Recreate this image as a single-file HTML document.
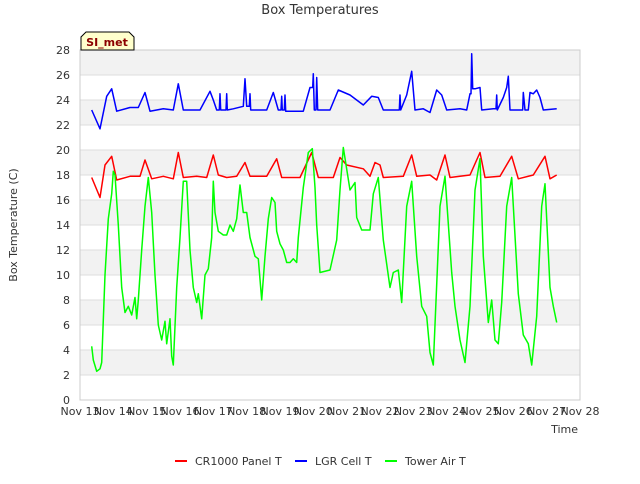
<!DOCTYPE html>
<html><head><meta charset="utf-8"><style>
body{margin:0;background:#fff;font-family:"DejaVu Sans","Liberation Sans",sans-serif;}
svg text{font-family:"DejaVu Sans","Liberation Sans",sans-serif;}
</style></head><body>
<svg id="chart" width="640" height="480" xmlns="http://www.w3.org/2000/svg">
<rect width="640" height="480" fill="#fff"/>
<g id="bands"></g><g id="grid"></g>
<rect x="80" y="50" width="500" height="350" fill="none" stroke="#ccc"/>
<g id="series"></g><g id="ticks"></g>
<text x="320" y="14" text-anchor="middle" font-size="13" fill="#333">Box Temperatures</text>
<text transform="translate(17,225) rotate(-90)" text-anchor="middle" font-size="11" fill="#333">Box Temperature (C)</text>
<text x="578" y="433" text-anchor="end" font-size="11" fill="#333">Time</text>
<g>
<path d="M81,50 L81,37 L86,32 L129,32 L134,37 L134,50 Z" fill="#ffffcc" stroke="#000" stroke-width="1"/>
<text x="107" y="46" text-anchor="middle" font-size="11" font-weight="bold" fill="#8b0000">SI_met</text>
</g>
<g>
<g><line x1="175" y1="461" x2="187" y2="461" stroke="#f00" stroke-width="2"/><text x="195" y="465" font-size="11" fill="#333">CR1000 Panel T</text></g>
<g><line x1="295" y1="461" x2="307" y2="461" stroke="#00f" stroke-width="2"/><text x="315" y="465" font-size="11" fill="#333">LGR Cell T</text></g>
<g><line x1="385" y1="461" x2="397" y2="461" stroke="#0f0" stroke-width="2"/><text x="405" y="465" font-size="11" fill="#333">Tower Air T</text></g>
</g>
</svg>
<script>
const xTickLabels=["Nov 13","Nov 14","Nov 15","Nov 16","Nov 17","Nov 18","Nov 19","Nov 20","Nov 21","Nov 22","Nov 23","Nov 24","Nov 25","Nov 26","Nov 27","Nov 28"];
const yTicks=[0,2,4,6,8,10,12,14,16,18,20,22,24,26,28];
const redDays=[0.35,0.6,0.75,0.95,1.1,1.5,1.8,1.95,2.15,2.5,2.8,2.95,3.1,3.5,3.8,4.0,4.15,4.4,4.7,4.95,5.1,5.6,5.9,6.05,6.6,6.95,7.15,7.6,7.8,8.0,8.5,8.7,8.85,9.0,9.1,9.7,9.95,10.1,10.5,10.7,10.95,11.1,11.7,12.0,12.15,12.6,12.95,13.15,13.6,13.95,14.1,14.3];
const redVals=[17.8,16.2,18.8,19.5,17.6,17.9,17.9,19.2,17.7,17.9,17.7,19.8,17.8,17.9,17.8,19.6,18.0,17.8,17.9,19.0,17.9,17.9,19.3,17.8,17.8,19.8,17.8,17.8,19.4,18.8,18.5,17.9,19.0,18.8,17.8,17.9,19.6,17.9,18.0,17.6,19.6,17.8,18.0,19.8,17.8,17.9,19.5,17.7,18.0,19.5,17.7,18.0];
const blueDays=[0.35,0.6,0.8,0.95,1.1,1.5,1.75,1.95,2.1,2.5,2.8,2.95,3.1,3.6,3.9,4.0,4.1,4.18,4.2,4.22,4.38,4.4,4.42,4.6,4.9,4.95,5.0,5.08,5.1,5.12,5.2,5.6,5.8,5.95,6.03,6.05,6.07,6.13,6.15,6.17,6.3,6.7,6.9,6.98,7.0,7.03,7.08,7.1,7.13,7.2,7.5,7.75,8.1,8.5,8.75,8.95,9.1,9.5,9.58,9.6,9.62,9.8,9.95,10.05,10.3,10.5,10.7,10.85,11.0,11.4,11.6,11.7,11.73,11.75,11.78,11.85,12.0,12.05,12.4,12.48,12.5,12.52,12.7,12.8,12.85,12.9,13.2,13.28,13.3,13.35,13.45,13.5,13.6,13.7,13.8,13.9,14.3];
const blueVals=[23.2,21.7,24.3,24.9,23.1,23.4,23.4,24.6,23.1,23.3,23.2,25.3,23.2,23.2,24.7,24.0,23.2,23.2,24.5,23.2,23.2,24.5,23.2,23.3,23.5,25.7,23.5,23.5,24.5,23.2,23.2,23.2,24.6,23.2,23.2,24.3,23.2,23.2,24.4,23.1,23.1,23.1,25.0,25.0,26.1,23.2,23.2,25.8,23.2,23.2,23.2,24.8,24.4,23.6,24.3,24.2,23.2,23.2,23.2,24.4,23.2,24.4,26.3,23.2,23.3,23.0,24.8,24.4,23.2,23.3,23.2,24.5,24.5,27.7,24.9,24.9,25.0,23.2,23.3,23.3,24.4,23.2,24.2,25.0,25.9,23.2,23.2,23.2,24.6,23.2,23.2,24.6,24.5,24.8,24.2,23.2,23.3];
const greenDays=[0.35,0.4,0.5,0.6,0.65,0.75,0.85,0.95,1.0,1.05,1.15,1.25,1.35,1.45,1.55,1.65,1.7,1.75,1.85,1.95,2.05,2.15,2.25,2.35,2.45,2.55,2.6,2.7,2.75,2.8,2.9,3.0,3.1,3.2,3.3,3.4,3.5,3.55,3.65,3.75,3.85,3.95,4.0,4.05,4.15,4.3,4.4,4.5,4.6,4.7,4.8,4.9,5.0,5.1,5.25,5.35,5.45,5.55,5.65,5.75,5.85,5.9,6.0,6.1,6.2,6.3,6.4,6.5,6.55,6.7,6.85,6.97,7.05,7.1,7.2,7.5,7.7,7.8,7.9,8.1,8.25,8.3,8.45,8.7,8.8,8.95,9.1,9.3,9.4,9.55,9.65,9.8,9.95,10.1,10.25,10.4,10.5,10.6,10.8,10.95,11.15,11.25,11.4,11.55,11.7,11.85,12.0,12.1,12.25,12.35,12.45,12.55,12.65,12.8,12.95,13.15,13.3,13.45,13.55,13.7,13.85,13.95,14.1,14.2,14.3];
const greenVals=[4.3,3.2,2.3,2.5,3.0,10,14.5,16.5,18.3,18.0,14,9,7,7.5,6.8,8.2,6.5,8,12,15.5,17.8,15,10,6,4.8,6.3,4.5,6.5,3.5,2.8,9,13,17.5,17.5,12,9,7.8,8.5,6.5,10,10.5,13,17.5,15,13.5,13.2,13.2,14,13.5,14.5,17.2,15,15,13,11.5,11.3,8,11.5,14.5,16.2,15.8,13.5,12.5,12,11,11,11.3,11,13,17,19.8,20.1,17,14,10.2,10.4,12.8,16.8,20.2,16.8,17.4,14.6,13.6,13.6,16.5,17.8,12.8,9,10.2,10.4,7.8,15.5,17.5,11.5,7.5,6.7,3.8,2.8,15.5,17.9,10.2,7.5,4.8,3,7.5,16.8,19.3,11.5,6.2,8,4.8,4.5,7.8,15.5,17.8,8.5,5.2,4.5,2.8,6.7,15.5,17.3,9,7.5,6.2];

const X0=80,X1=580,Y0=400,Y1=50;
const xs=d=>X0+(X1-X0)*d/15;
const ys=v=>Y0-(Y0-Y1)*v/28;
const NS="http://www.w3.org/2000/svg";
function mk(tag,attrs,parent){const e=document.createElementNS(NS,tag);for(const k in attrs)e.setAttribute(k,attrs[k]);parent.appendChild(e);return e;}
const bands=document.getElementById('bands'),grid=document.getElementById('grid'),ticks=document.getElementById('ticks'),series=document.getElementById('series');
for(let v=2;v<28;v+=4){
 const r=mk('rect',{x:X0,y:ys(v+2),width:X1-X0,height:ys(v)-ys(v+2),fill:'#f2f2f2'},bands);
 
 
}
yTicks.forEach(v=>{
 const l=mk('line',{x1:X0,x2:X1,y1:ys(v),y2:ys(v),stroke:'#ddd'},grid);
 
 
 const t=mk('text',{x:X0-10,y:ys(v)+4,'text-anchor':'end','font-size':11,fill:'#333'},ticks);
 t.textContent=v;
 
 
});
xTickLabels.forEach((lab,i)=>{
 const t=mk('text',{x:xs(i),y:415,'text-anchor':'middle','font-size':11,fill:'#333'},ticks);
 t.textContent=lab;
 
 
});
function drawLine(days,vals,color,name){
 const d=days.map((x,i)=>(i?'L':'M')+xs(x).toFixed(1)+','+ys(vals[i]).toFixed(1)).join('');
 const p=mk('path',{d:d,fill:'none',stroke:color,'stroke-width':1.5,'stroke-linejoin':'round'},series);
 
 
}
drawLine(redDays,redVals,'#f00','cr1000-panel-t-line');
drawLine(blueDays,blueVals,'#00f','lgr-cell-t-line');
drawLine(greenDays,greenVals,'#0f0','tower-air-t-line');
</script>
</body></html>
